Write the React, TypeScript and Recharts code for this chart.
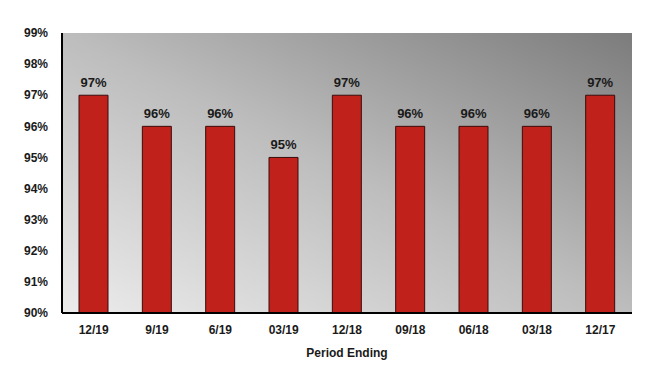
import React from "react";
import { BarChart, Bar, XAxis, YAxis, CartesianGrid, LabelList } from "recharts";

const periods = ["12/19", "9/19", "6/19", "03/19", "12/18", "09/18", "06/18", "03/18", "12/17"];
const values = [97, 96, 96, 95, 97, 96, 96, 96, 97];
const yTicks = [90, 91, 92, 93, 94, 95, 96, 97, 98, 99];

const data = periods.map((p, i) => ({ name: p, value: values[i] }));

const font = "'Liberation Sans', Arial, sans-serif";
const tickStyle = { fill: "#1a1a1a", fontSize: 12, fontWeight: 700, fontFamily: font };

export default function App() {
  return (
    <div style={{ position: "absolute", left: 0, top: 0, background: "#fff" }}>
      <BarChart
        width={665}
        height={389}
        data={data}
        margin={{ top: 33, right: 33, left: 0, bottom: 0 }}
        barSize={29}
      >
        <defs>
          <linearGradient id="bg" x1="0" y1="1" x2="1" y2="0">
            <stop offset="0%" stopColor="#ececec" />
            <stop offset="50%" stopColor="#bdbdbd" />
            <stop offset="100%" stopColor="#7c7c7c" />
          </linearGradient>
        </defs>
        <CartesianGrid horizontal={false} vertical={false} fill="url(#bg)" stroke="none" />
        <XAxis
          dataKey="name"
          height={76}
          tick={tickStyle}
          tickLine={false}
          tickMargin={6}
          axisLine={{ stroke: "#000", strokeWidth: 2 }}
          label={{
            value: "Period Ending",
            position: "insideBottom",
            offset: 32,
            style: { fill: "#1a1a1a", fontSize: 12, fontWeight: 700, fontFamily: font },
          }}
        />
        <YAxis
          width={62}
          domain={[90, 99]}
          ticks={yTicks}
          interval={0}
          tickFormatter={(v: number) => v + "%"}
          tick={tickStyle}
          tickLine={false}
          tickMargin={8}
          axisLine={{ stroke: "#000", strokeWidth: 2 }}
          allowDataOverflow
        />
        <Bar dataKey="value" fill="#c0211a" stroke="#3a0c0a" strokeWidth={1} isAnimationActive={false}>
          <LabelList
            dataKey="value"
            position="top"
            offset={8}
            formatter={(v: any) => v + "%"}
            style={{ fill: "#1a1a1a", fontSize: 13, fontWeight: 700, fontFamily: font }}
          />
        </Bar>
      </BarChart>
    </div>
  );
}
